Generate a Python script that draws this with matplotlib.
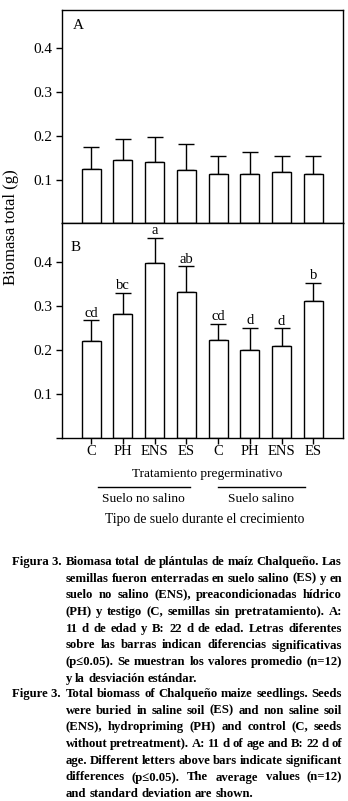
import matplotlib
matplotlib.use("Agg")
import matplotlib.pyplot as plt
import numpy as np

# ---------------------------------------------------------------------------
# Data
# ---------------------------------------------------------------------------
treatments = ["C", "PH", "ENS", "ES", "C", "PH", "ENS", "ES"]
soil_groups = ["Suelo no salino", "Suelo salino"]

biomass_a = [0.124, 0.144, 0.140, 0.121, 0.112, 0.112, 0.117, 0.112]
sd_a = [0.050, 0.048, 0.056, 0.059, 0.041, 0.050, 0.036, 0.041]

biomass_b = [0.219, 0.281, 0.397, 0.331, 0.221, 0.200, 0.209, 0.310]
sd_b = [0.048, 0.048, 0.057, 0.059, 0.038, 0.050, 0.039, 0.042]
letters_b = ["cd", "bc", "a", "ab", "cd", "d", "d", "b"]

yticks = [0.1, 0.2, 0.3, 0.4]

caption_es_label = "Figura 3."
caption_es = [
    "Biomasa total de plántulas de maíz Chalqueño. Las",
    "semillas fueron enterradas en suelo salino (ES) y en",
    "suelo no salino (ENS), preacondicionadas hídrico",
    "(PH) y testigo (C, semillas sin pretratamiento). A:",
    "11 d de edad y B: 22 d de edad. Letras diferentes",
    "sobre las barras indican diferencias significativas",
    "(p≤0.05). Se muestran los valores promedio (n=12)",
    "y la desviación estándar.",
]
caption_en_label = "Figure 3."
caption_en = [
    "Total biomass of Chalqueño maize seedlings. Seeds",
    "were buried in saline soil (ES) and non saline soil",
    "(ENS), hydropriming (PH) and control (C, seeds",
    "without pretreatment). A: 11 d of age and B: 22 d of",
    "age. Different letters above bars indicate significant",
    "differences (p≤0.05). The average values (n=12)",
    "and standard deviation are shown.",
]

# ---------------------------------------------------------------------------
# Layout helpers (pixel coordinates from the top-left corner)
# ---------------------------------------------------------------------------
W, H = 348, 801
SERIF = ["Liberation Serif", "DejaVu Serif"]
plt.rcParams["font.family"] = SERIF

fig = plt.figure(figsize=(W / 100, H / 100), dpi=100)


def fx(px):
    return px / W


def fy(py):
    return 1 - py / H


def panel(top, bottom, left=62, right=342.5):
    return fig.add_axes([fx(left), fy(bottom), fx(right - left), (bottom - top) / H])


ax_a = panel(10, 223.3)
ax_b = panel(223.3, 437.5)

x = np.arange(len(treatments))
for ax, vals, sd in ((ax_a, biomass_a, sd_a), (ax_b, biomass_b, sd_b)):
    ax.bar(x, vals, width=0.6, color="white", edgecolor="black", linewidth=1.0, zorder=2)
    ax.errorbar(x, vals, yerr=[np.zeros(len(sd)), sd], fmt="none", ecolor="black",
                elinewidth=1.0, capsize=5.8, capthick=1.0, zorder=1)
    ax.set_xlim(-0.92, 7.92)
    ax.set_ylim(0, 0.487)
    for s in ax.spines.values():
        s.set_linewidth(1.0)
    ax.tick_params(axis="y", direction="out", length=4, width=1.0, pad=3, labelsize=11)

ax_a.set_yticks(yticks)
ax_a.set_yticklabels([f"{v:.1f}" for v in yticks])
ax_a.set_xticks([])

ax_b.set_yticks([0] + yticks)
ax_b.set_yticklabels([""] + [f"{v:.1f}" for v in yticks])
ax_b.set_xticks(x)
ax_b.set_xticklabels(treatments)
ax_b.tick_params(axis="x", direction="out", length=4, width=1.0, pad=1.5, labelsize=10.5)

for xi, v, s, lab in zip(x, biomass_b, sd_b, letters_b):
    ax_b.annotate(lab, (xi, v + s), xytext=(0, 0.3), textcoords="offset points",
                  ha="center", va="bottom", fontsize=10.5)

ax_a.text(0.06, 0.925, "A", transform=ax_a.transAxes, fontsize=11, ha="center", va="center")
ax_b.text(0.05, 0.885, "B", transform=ax_b.transAxes, fontsize=11, ha="center", va="center")

fig.text(fx(11), fy(227), "Biomasa total (g)", rotation=90, ha="center", va="center",
         fontsize=12)

# group labels under the axis
fig.text(fx(207.5), fy(473.5), "Tratamiento pregerminativo", ha="center", va="center",
         fontsize=9.6)
for (x0, x1), name in zip(((98, 190), (218, 305)), soil_groups):
    fig.add_artist(plt.Line2D([fx(x0), fx(x1)], [fy(486.7), fy(486.7)], color="black",
                              linewidth=1.0))
    fig.text(fx((x0 + x1) / 2 - 1), fy(498.5), name, ha="center", va="center", fontsize=9.6)
fig.text(fx(205), fy(519.5), "Tipo de suelo durante el crecimiento", ha="center",
         va="center", fontsize=9.8)

# ---------------------------------------------------------------------------
# Caption (justified by hand)
# ---------------------------------------------------------------------------
renderer = fig.canvas.get_renderer()
BODY_L, BODY_R, LABEL_L = 65.5, 342.0, 12.0
LINE = 16.7


def word_width(word, size):
    t = fig.text(0, 0, word, fontsize=size, fontweight="bold")
    w = t.get_window_extent(renderer).width
    t.remove()
    return w


def line_gaps(lines, size):
    gaps = []
    for line in lines[:-1]:
        words = line.split()
        total = sum(word_width(w, size) for w in words)
        gaps.append((BODY_R - BODY_L - total) / (len(words) - 1))
    return gaps


# largest size that still leaves a visible word gap on every justified line
cap_size = 10.0
while cap_size > 8 and min(line_gaps(caption_es, cap_size) + line_gaps(caption_en, cap_size)) < 2.6:
    cap_size -= 0.1


def caption_block(label, lines, base0, size):
    fig.text(fx(LABEL_L), fy(base0), label, fontsize=size, fontweight="bold",
             va="baseline", ha="left")
    space = word_width("a a", size) - 2 * word_width("a", size)
    for i, line in enumerate(lines):
        yb = fy(base0 + i * LINE)
        words = line.split()
        widths = [word_width(w, size) for w in words]
        if i == len(lines) - 1:
            gap = space
        else:
            gap = (BODY_R - BODY_L - sum(widths)) / (len(words) - 1)
        xpos = BODY_L
        for w, wd in zip(words, widths):
            fig.text(fx(xpos), yb, w, fontsize=size, fontweight="bold",
                     va="baseline", ha="left")
            xpos += wd + gap


caption_block(caption_es_label, caption_es, 565.0, cap_size)
caption_block(caption_en_label, caption_en, 697.0, cap_size)

fig.savefig("out.png", dpi=100)
